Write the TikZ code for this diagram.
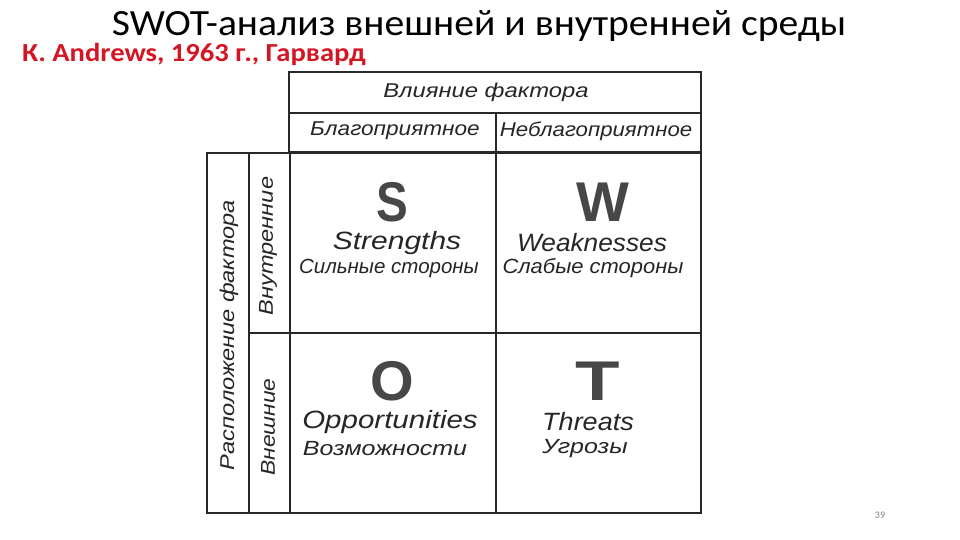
\documentclass[tikz,border=0pt]{standalone}
\usepackage{fontspec}
\setmainfont{Carlito}
\newfontfamily\hand{Liberation Sans}
\usepackage{graphicx}
\definecolor{subred}{RGB}{212,22,36}
\definecolor{linegray}{RGB}{40,40,40}
\newcommand{\hx}[2]{\scalebox{#1}[1]{#2}}
\begin{document}
\begin{tikzpicture}[x=1pt,y=-1pt,
  grid/.style={draw=linegray,line width=1.4pt},
  hdr/.style={font=\hand\itshape\fontsize{20}{22}\selectfont,text=black!85,inner sep=0pt},
  eng/.style={font=\hand\itshape\fontsize{25}{27}\selectfont,text=black!85,inner sep=0pt},
  rus/.style={font=\hand\itshape\fontsize{20.5}{23}\selectfont,text=black!85,inner sep=0pt},
  big/.style={font=\hand\bfseries\fontsize{56}{60}\selectfont,text=black!72,inner sep=0pt},
  side/.style={font=\hand\itshape\fontsize{20}{22}\selectfont,text=black!85,inner sep=0pt,rotate=90}]
\useasboundingbox (0,0) rectangle (960,540);
\fill[white] (0,0) rectangle (960,540);
% title
\node[inner sep=0pt,anchor=base,text depth=0pt,font=\fontsize{37}{42}\selectfont] (title) at (479,36) {\hx{1.07}{SWOT-анализ внешней и внутренней среды}};
\node[inner sep=0pt,anchor=base west,font=\bfseries\fontsize{26}{30}\selectfont,text=subred] (sub) at (22,62) {\hx{1.1}{К. Andrews, 1963 г., Гарвард}};
% grid
\draw[grid] (289,72) rectangle (701,152);
\draw[grid] (289,113) -- (701,113);
\draw[grid] (496,113) -- (496,513);
\draw[grid] (207,153) rectangle (701,513);
\draw[grid] (249,153) -- (249,513);
\draw[grid] (290,152) -- (290,513);
\draw[grid] (249,333) -- (701,333);
% headers
\node[hdr] (infl) at (486,92) {\hx{1.19}{Влияние фактора}};
\node[hdr] (fav) at (395,131) {\hx{1.13}{Благоприятное}};
\node[hdr] (unfav) at (596,131) {\hx{1.11}{Неблагоприятное}};
\node[side] (loc) at (229,335) {\hx{1.18}{Расположение фактора}};
\node[side] (int) at (268,246) {\hx{1.18}{Внутренние}};
\node[side] (ext) at (268,427) {\hx{1.14}{Внешние}};
% quadrants
\node[big] (S) at (392,202) {\hx{0.85}{S}};
\node[eng] (Se) at (397,243) {\hx{1.2}{Strengths}};
\node[rus] (Sr) at (389,268) {Сильные стороны};
\node[big] (W) at (603,202) {W};
\node[eng] (We) at (592,243) {\hx{1.05}{Weaknesses}};
\node[rus] (Wr) at (593,268) {\hx{1.07}{Слабые стороны}};
\node[big] (O) at (392,381) {O};
\node[eng] (Oe) at (390,422) {\hx{1.18}{Opportunities}};
\node[rus] (Or) at (385,449) {\hx{1.22}{Возможности}};
\node[big] (T) at (598,381) {\hx{1.3}{T}};
\node[eng] (Te) at (588,422) {\hx{1.08}{Threats}};
\node[rus] (Tr) at (585,449) {\hx{1.22}{Угрозы}};
\node[inner sep=0pt,font=\fontsize{10}{12}\selectfont,text=black!50] (pg) at (880,515) {39};
\end{tikzpicture}
\end{document}
